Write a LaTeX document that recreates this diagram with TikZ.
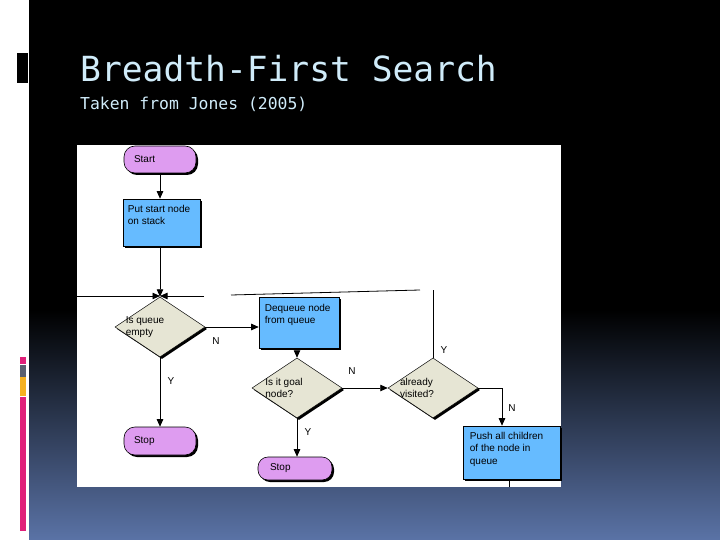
\documentclass[tikz,border=0pt]{standalone}
\usepackage{fontspec}
\setmainfont{Liberation Sans}
\newfontfamily\monofont{DejaVu Sans Mono}
\usetikzlibrary{shapes.geometric,shadows,arrows.meta}
\definecolor{pillc}{RGB}{222,156,240}
\definecolor{boxc}{RGB}{102,187,255}
\definecolor{diac}{RGB}{230,229,212}
\definecolor{titlec}{RGB}{208,236,250}
\definecolor{bgbot}{RGB}{90,115,166}
\definecolor{barpink}{RGB}{224,32,122}
\definecolor{bargray}{RGB}{90,96,112}
\definecolor{barorange}{RGB}{245,177,32}
\begin{document}
\begin{tikzpicture}[x=1pt,y=-1pt,
  shd/.style={drop shadow={shadow xshift=2pt,shadow yshift=-2pt,fill=black,opacity=1}},
  chartfont/.style={font=\fontsize{10}{12.8}\selectfont},
  pill/.style={draw=black,line width=0.6pt,fill=pillc,rounded corners=11pt,shd,chartfont,
    align=left,inner xsep=10pt,inner ysep=0pt},
  boxn/.style={draw=black,line width=0.6pt,fill=boxc,shd,inner sep=0pt},
  boxtxt/.style={anchor=north west,align=left,inner sep=0pt,chartfont},
  dia/.style={shape=diamond,draw=black,line width=0.5pt,fill=diac,shd,inner sep=0pt,
    minimum width=90pt,minimum height=60pt},
  diatxt/.style={align=left,inner sep=0pt,chartfont},
  yn/.style={chartfont,inner sep=0pt},
  conn/.style={line width=0.8pt,draw=black},
  arr/.style={conn,-{Triangle[length=7.5pt,width=6.5pt]}}
]
\useasboundingbox (0,0) rectangle (720,540);
% background
\fill[white] (0,0) rectangle (720,540);
\fill[black] (29,0) rectangle (720,540);
\shade[top color=black,bottom color=bgbot] (29,310) rectangle (720,540);
% left decorations
\fill[black] (17,53) rectangle (28,83);
\fill[barpink] (20,357) rectangle (26,364);
\fill[bargray] (20,365) rectangle (26,377);
\fill[barorange] (20,377) rectangle (26,396);
\fill[barpink] (20,397) rectangle (26,531);
% titles
\node[anchor=base west,inner sep=0pt,text=titlec,font=\monofont\fontsize{34.6}{40}\selectfont] (title) at (80,82) {Breadth-First Search};
\node[anchor=base west,inner sep=0pt,text=titlec,font=\monofont\fontsize{16.4}{20}\selectfont] (subtitle) at (80,110) {Taken from Jones (2005)};
% chart background
\fill[white] (77,145) rectangle (561,487);

% nodes
\node[pill,minimum width=72pt,minimum height=27pt,text width=52pt] (start) at (160,159.5) {Start};
\node[boxn,minimum width=77pt,minimum height=47pt,
  label={[boxtxt,xshift=5pt,yshift=-6pt]north west:Put start node\\on stack}] (put) at (161.5,222.5) {};
\node[dia,label={[diatxt,xshift=-15pt]center:Is queue\\empty}] (qe) at (160,327) {};
\node[boxn,minimum width=80pt,minimum height=51pt,
  label={[boxtxt,xshift=6pt,yshift=-7pt]north west:Dequeue node\\from queue}] (deq) at (299,322.5) {};
\node[dia,label={[diatxt,xshift=-13pt]center:Is it goal\\node?}] (goal) at (297,388) {};
\node[dia,label={[diatxt,xshift=-16pt]center:already\\visited?}] (vis) at (433,388) {};
\node[boxn,minimum width=97pt,minimum height=53pt,
  label={[boxtxt,xshift=7pt,yshift=-6pt]north west:Push all children\\of the node in\\queue}] (push) at (511.5,452.5) {};
\node[pill,minimum width=72pt,minimum height=28pt,text width=52pt] (stop1) at (160,441) {Stop};
\node[pill,minimum width=74pt,minimum height=23pt,text width=50pt,inner xsep=12pt,rounded corners=10pt] (stop2) at (295,468.5) {Stop};

% free ends
\coordinate (lin) at (77,296);
\coordinate (rin) at (204,296);
\coordinate (loopa) at (231,295);
\coordinate (loopb) at (420,290);
\coordinate (vtop) at (433,290);
\coordinate (pushbot) at (509,487);

% connectors
\draw[arr] (start.south) -- (start.south |- put.north);
\draw[arr] (qe.north |- put.south) -- (qe.north);
\draw[arr] (lin) -- (lin -| qe.north);
\draw[arr] (rin) -- (rin -| qe.north);
\draw[arr] (qe.east) -- (qe.east -| deq.west);
\draw[arr] (qe.south) -- (stop1.north);
\draw[arr] (goal.north |- deq.south) -- (goal.north);
\draw[arr] (goal.south) -- (goal.south |- stop2.north);
\draw[arr] (goal.east) -- (vis.west);
\draw[arr] (vis.east) -| ([xshift=-9.5pt]push.north);
\draw[conn] (vis.north) -- (vtop);
\draw[conn] (loopa) -- (loopb);
\draw[conn] ([xshift=-2.5pt]push.south) -- (pushbot);

% Y/N labels
\node[yn] (l1) at (216,341) {N};
\node[yn] (l2) at (171,381) {Y};
\node[yn] (l3) at (352,371) {N};
\node[yn] (l4) at (308,432) {Y};
\node[yn] (l5) at (444,350) {Y};
\node[yn] (l6) at (512,408) {N};
\end{tikzpicture}
\end{document}
